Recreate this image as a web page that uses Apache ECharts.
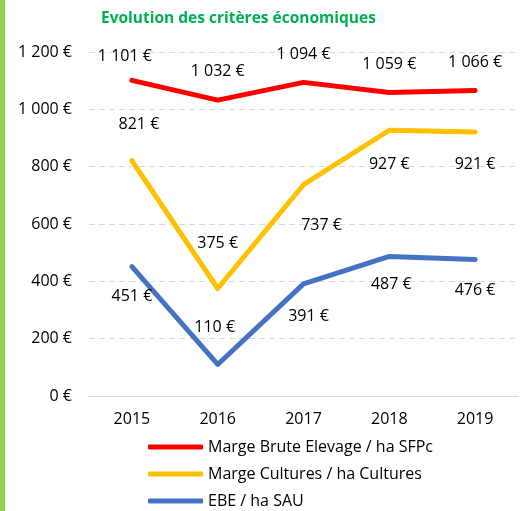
<!DOCTYPE html>
<html>
<head>
<meta charset="utf-8">
<script src="https://cdn.jsdelivr.net/npm/echarts@6/dist/echarts.min.js"></script>
<style>
  html, body { margin: 0; padding: 0; background: #fff; }
  #chart { width: 521px; height: 511px; }
</style>
</head>
<body>
<div id="chart"></div>
<script>
// donnees
var years = ['2015', '2016', '2017', '2018', '2019'];
var margeBrute = [1101, 1032, 1094, 1059, 1066];
var margeCultures = [821, 375, 737, 927, 921];
var ebe = [451, 110, 391, 487, 476];
var yTicks = [0, 200, 400, 600, 800, 1000, 1200];

// decalage des etiquettes (comme place a la main dans Excel)
var offRed = [[-7, -24], [0, -29], [0, -28], [0, -28], [0, -28]];
var offYellow = [[7, -36], [0, -45], [18, 41], [0, 34], [0, 32]];
var offBlue = [[0, 30], [-3, -37], [5, 33], [2, 28], [0, 31]];

var font = 'Open Sans';

function euro(v) {
  return String(v).replace(/\B(?=(\d{3})+(?!\d))/g, ' ') + ' €';
}

function buildData(values, offsets) {
  return values.map(function (v, i) {
    return { value: v, label: { offset: offsets[i] } };
  });
}

function makeSeries(name, values, offsets, color) {
  return {
    name: name,
    type: 'line',
    data: buildData(values, offsets),
    symbol: 'circle',
    symbolSize: 2,
    itemStyle: { color: color },
    lineStyle: { color: color, width: 5, cap: 'round', join: 'round' },
    label: {
      show: true,
      position: 'inside',
      color: '#000',
      fontFamily: font,
      fontSize: 16,
      formatter: function (p) { return euro(p.value); }
    },
    emphasis: { disabled: true }
  };
}

var chart = echarts.init(document.getElementById('chart'));
var option = {
  animation: false,
  title: {
    text: 'Evolution des critères économiques',
    left: 96,
    top: 6,
    textStyle: { color: '#00b050', fontFamily: font, fontSize: 15.5, fontWeight: 'bold' }
  },
  graphic: [{
    type: 'rect',
    left: 0,
    top: 0,
    shape: { width: 5, height: 511 },
    style: { fill: '#92d050' }
  }],
  legend: {
    orient: 'vertical',
    left: 148,
    top: 439,
    padding: 0,
    itemWidth: 55,
    itemHeight: 5,
    itemGap: 11,
    icon: 'roundRect',
    textStyle: { fontFamily: font, fontSize: 16, lineHeight: 16, color: '#000' },
    data: ['Marge Brute Elevage / ha SFPc', 'Marge Cultures / ha Cultures', 'EBE / ha SAU']
  },
  grid: { left: 89, right: 3, top: 52, bottom: 115, containLabel: false },
  xAxis: {
    type: 'category',
    data: years,
    axisLine: { lineStyle: { color: '#d9d9d9', width: 1 } },
    axisTick: { show: false },
    axisLabel: { color: '#000', fontFamily: font, fontSize: 16, margin: 15 }
  },
  yAxis: {
    type: 'value',
    min: yTicks[0],
    max: yTicks[yTicks.length - 1],
    interval: 200,
    axisLine: { show: false },
    axisTick: { show: false },
    splitLine: { lineStyle: { color: '#d9d9d9', type: [6, 4], width: 1 } },
    axisLabel: { color: '#000', fontFamily: font, fontSize: 16, margin: 17, formatter: euro }
  },
  series: [
    makeSeries('Marge Brute Elevage / ha SFPc', margeBrute, offRed, '#ff0000'),
    makeSeries('Marge Cultures / ha Cultures', margeCultures, offYellow, '#ffc000'),
    makeSeries('EBE / ha SAU', ebe, offBlue, '#4472c4')
  ]
};
chart.setOption(option);
</script>
</body>
</html>
